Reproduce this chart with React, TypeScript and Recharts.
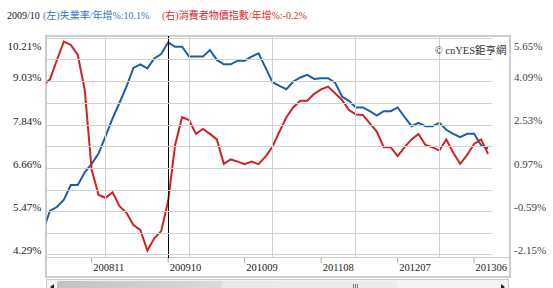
import { LineChart, Line, XAxis, YAxis, ReferenceLine } from 'recharts';

const months = [
  '200804', '200805', '200806', '200807', '200808', '200809', '200810', '200811', '200812',
  '200901', '200902', '200903', '200904', '200905', '200906', '200907', '200908', '200909', '200910', '200911', '200912',
  '201001', '201002', '201003', '201004', '201005', '201006', '201007', '201008', '201009', '201010', '201011', '201012',
  '201101', '201102', '201103', '201104', '201105', '201106', '201107', '201108', '201109', '201110', '201111', '201112',
  '201201', '201202', '201203', '201204', '201205', '201206', '201207', '201208', '201209', '201210', '201211', '201212',
  '201301', '201302', '201303', '201304', '201305', '201306', '201307', '201308',
];

// (左) 失業率 / 年增%
const unemployment = [
  4.95, 5.5, 5.6, 5.8, 6.2, 6.2, 6.55, 6.78, 7.07,
  7.54, 8.02, 8.45, 8.89, 9.4, 9.5, 9.39, 9.66, 9.78, 10.1, 9.98, 9.98,
  9.71, 9.71, 9.71, 9.89, 9.62, 9.5, 9.5, 9.6, 9.6, 9.71, 9.8, 9.41,
  9.01, 8.91, 8.82, 9.03, 9.14, 9.21, 9.1, 9.12, 9.12, 9.0, 8.62, 8.5,
  8.32, 8.32, 8.22, 8.1, 8.22, 8.22, 8.32, 8.06, 7.81, 7.9, 7.81, 7.81,
  7.9, 7.71, 7.6, 7.51, 7.6, 7.6, 7.29, 7.2,
];

// (右) 消費者物價指數 / 年增%
const cpi = [
  3.95, 4.17, 4.87, 5.53, 5.41, 5.05, 3.79, 0.91, 0.01,
  -0.09, 0.11, -0.39, -0.63, -1.07, -1.25, -1.99, -1.55, -1.29, -0.2, 1.81, 2.81,
  2.71, 2.21, 2.39, 2.21, 2.01, 1.13, 1.29, 1.21, 1.12, 1.21, 1.12, 1.39,
  1.75, 2.29, 2.81, 3.17, 3.4, 3.4, 3.65, 3.81, 3.91, 3.67, 3.43, 3.07,
  2.91, 2.89, 2.59, 2.29, 1.73, 1.73, 1.41, 1.73, 2.01, 2.21, 1.81, 1.73,
  1.61, 2.01, 1.53, 1.13, 1.45, 1.85, 2.01, 1.49,
];

const leftTicks = [4.29, 5.47, 6.66, 7.84, 9.03, 10.21];
const rightTicks = [-2.15, -0.59, 0.97, 2.53, 4.09, 5.65];
const xTickMonths = ['200811', '200910', '201009', '201108', '201207', '201306'];
const gridMonths = ['200901', '201001', '201101', '201201', '201301'];
const cursorMonth = '200910';

const data = months.map((m, i) => ({ i, month: m, unemployment: unemployment[i], cpi: cpi[i] }));
const idx = (m: string) => months.indexOf(m);

// horizontal grid: every tick and half way between
const hGrid = leftTicks.flatMap((v, k) =>
  k < leftTicks.length - 1 ? [v, (v + leftTicks[k + 1]) / 2] : [v]
);
// x ticks carry both the labels and the yearly grid lines
const xAllTicks = [...xTickMonths, ...gridMonths].map(idx).sort((a, b) => a - b);

const SERIF = "'Liberation Serif', 'Noto Sans CJK TC', serif";
const GRID = '#d0d0d0';
const PLOT_W = 445;
const PLOT_H = 222;

// grid lines are drawn by the tick renderers, the labels only on the real ticks
const LeftTick = (p: any) => {
  const v = p.payload.value;
  const isLabel = leftTicks.includes(v);
  const top = v === leftTicks[leftTicks.length - 1];
  return (
    <g>
      <line x1={p.x + 5} x2={p.x + 5 + PLOT_W} y1={p.y} y2={p.y} stroke={GRID} strokeWidth={1} shapeRendering="crispEdges" />
      {isLabel && (
        <text x={p.x} y={p.y + (top ? 7.7 : -4.4)} dy="0.35em" textAnchor="end" fontSize={11} fill="#222" fontFamily={SERIF}>
          {v.toFixed(2)}%
        </text>
      )}
    </g>
  );
};

const RightTick = (p: any) => {
  const top = p.payload.value === rightTicks[rightTicks.length - 1];
  return (
    <text x={p.x} y={p.y + (top ? 7.7 : -4.4)} dy="0.35em" textAnchor="start" fontSize={11} fill="#444" fontFamily={SERIF}>
      {p.payload.value.toFixed(2)}%
    </text>
  );
};

const XTick = (p: any) => {
  const m = months[p.payload.value];
  if (gridMonths.includes(m)) {
    return <line x1={p.x} x2={p.x} y1={p.y - PLOT_H} y2={p.y} stroke={GRID} strokeWidth={1} shapeRendering="crispEdges" />;
  }
  return (
    <g>
      <line x1={p.x} x2={p.x} y1={p.y} y2={p.y + 5} stroke="#aaa" />
      <text x={p.x + 1.5} y={p.y + 9} dy="0.35em" textAnchor="start" fontSize={10.5} fill="#222" fontFamily={SERIF}>
        {m}
      </text>
    </g>
  );
};

const tri = (dir: 'left' | 'right') => ({
  position: 'absolute' as const,
  top: 4,
  width: 0,
  height: 0,
  borderTop: '3px solid transparent',
  borderBottom: '3px solid transparent',
  ...(dir === 'left' ? { left: 3, borderRight: '4px solid #222' } : { right: 3, borderLeft: '4px solid #222' }),
});

export default function App() {
  return (
    <div style={{ position: 'absolute', left: 0, top: 0, width: 553, height: 288, overflow: 'hidden', background: '#fff', fontFamily: SERIF }}>
      {/* header */}
      <div style={{ position: 'absolute', top: 10, left: 7, fontSize: 10, lineHeight: '12px', color: '#222', whiteSpace: 'nowrap' }}>2009/10</div>
      <div style={{ position: 'absolute', top: 10, left: 43, fontSize: 10, lineHeight: '12px', color: '#3576bd', whiteSpace: 'nowrap' }}>(左)失業率/年增%:10.1%</div>
      <div style={{ position: 'absolute', top: 10, left: 162, fontSize: 10, lineHeight: '12px', color: '#d62c2c', whiteSpace: 'nowrap' }}>(右)消費者物價指數/年增%:-0.2%</div>

      {/* frame */}
      <div style={{ position: 'absolute', left: 45, top: 35, width: 462, height: 239, border: '2px solid #cdcdcd' }} />
      <div style={{ position: 'absolute', left: 45, top: 257, width: 466, height: 1, background: '#cdcdcd' }} />

      <div style={{ position: 'absolute', left: 0, top: 0 }}>
        <LineChart width={553} height={288} data={data} margin={{ top: 36, right: 0, bottom: 0, left: 0 }}>
          <XAxis
            dataKey="i"
            type="number"
            domain={[0.5, 64.5]}
            allowDataOverflow
            ticks={xAllTicks}
            interval={0}
            height={30}
            tickSize={0}
            tickMargin={0}
            axisLine={false}
            tickLine={false}
            tick={<XTick />}
          />
          <YAxis
            yAxisId="left"
            domain={[4.208, 10.273]}
            allowDataOverflow
            ticks={hGrid}
            interval={0}
            width={46.5}
            tickSize={0}
            tickMargin={5}
            axisLine={false}
            tickLine={false}
            tick={<LeftTick />}
          />
          <YAxis
            yAxisId="right"
            orientation="right"
            domain={[-2.258, 5.733]}
            allowDataOverflow
            ticks={rightTicks}
            interval={0}
            width={61.5}
            tickSize={0}
            tickMargin={22.5}
            axisLine={false}
            tickLine={false}
            tick={<RightTick />}
          />
          <Line yAxisId="left" type="linear" dataKey="unemployment" stroke="#1d5ea6" strokeWidth={2} dot={false} activeDot={false} isAnimationActive={false} />
          <Line yAxisId="right" type="linear" dataKey="cpi" stroke="#cf2222" strokeWidth={2} dot={false} activeDot={false} isAnimationActive={false} />
          <ReferenceLine yAxisId="left" x={idx(cursorMonth)} stroke="#000" strokeWidth={1} shapeRendering="crispEdges" />
        </LineChart>
      </div>

      {/* copyright */}
      <div style={{ position: 'absolute', top: 45, right: 46.5, fontSize: 10.5, lineHeight: '12px', color: '#333', whiteSpace: 'nowrap' }}>© cnYES鉅亨網</div>

      {/* scrollbar */}
      <div style={{ position: 'absolute', left: 46, top: 279, width: 463, height: 16, background: '#f3f3f3', border: '1px solid #c8c8c8', boxSizing: 'border-box' }}>
        <div style={tri('left')} />
        <div style={{ position: 'absolute', left: 10, top: 1, width: 340, height: 13, background: 'linear-gradient(to right, #c2c2c2 0%, #dadada 48%, #e9e9e9 49%, #ececec 100%)', borderRadius: 2 }} />
        {[0, 2, 4].map((d) => (
          <div key={d} style={{ position: 'absolute', left: 306 + d, top: 4, width: 1, height: 4, background: '#777' }} />
        ))}
        <div style={tri('right')} />
      </div>
    </div>
  );
}
